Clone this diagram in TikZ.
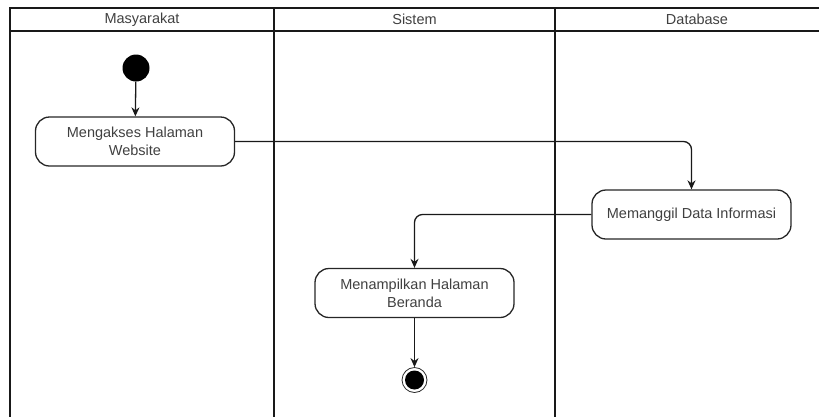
\documentclass[tikz,border=0pt]{standalone}
\usepackage{fontspec}
\setmainfont{Liberation Sans}
\usetikzlibrary{positioning,arrows.meta}

\begin{document}
\begin{tikzpicture}[x=1pt, y=-1pt,
		every node/.style={font=\fontsize{14.5}{18}\selectfont, text=black!75},
		lane/.style={line width=2pt, draw=black!90},
		action/.style={draw=black!85, rounded corners=14pt, line width=1.3pt, minimum width=199pt, minimum height=49pt, align=center, inner sep=2pt},
		initial/.style={circle, fill=black, minimum size=27pt, inner sep=0pt},
		final/.style={circle, draw=black!85, line width=0.8pt, minimum size=25pt, inner sep=0pt, path picture={\fill[black] (path picture bounding box.center) circle (9.5pt);}},
		flow/.style={-{Stealth[length=9pt, width=8pt]}, line width=1.3pt, draw=black!90, rounded corners=8pt}]
	\useasboundingbox (0,0) rectangle (819,416);
	\clip (0,0) rectangle (819,416);
	% swimlanes
	\draw[lane] (10,431) -- (10,8) -- (845,8);
	\draw[lane] (10,31) -- (845,31);
	\draw[lane] (274,8) -- (274,431);
	\draw[lane] (555,8) -- (555,431);
	\node (hmasy) at (142,19.5) {Masyarakat};
	\node (hsistem) at (414.5,19.5) {Sistem};
	\node (hdb) at (697,19.5) {Database};
	% activities
	\node[initial] (start) at (136,68) {};
	\node[action] (akses) at (135,141.5) {Mengakses Halaman\\Website};
	\node[action] (panggil) at (691.5,214.5) {Memanggil Data Informasi};
	\node[action] (tampil) at (414.5,293) {Menampilkan Halaman\\Beranda};
	\node[final] (stop) at (414.5,380) {};
	\draw[flow] (start) -- (akses);
	\draw[flow] (akses) -| (panggil);
	\draw[flow] (panggil) -| (tampil);
	\draw[flow] (tampil) -- (stop);
\end{tikzpicture}
\end{document}
